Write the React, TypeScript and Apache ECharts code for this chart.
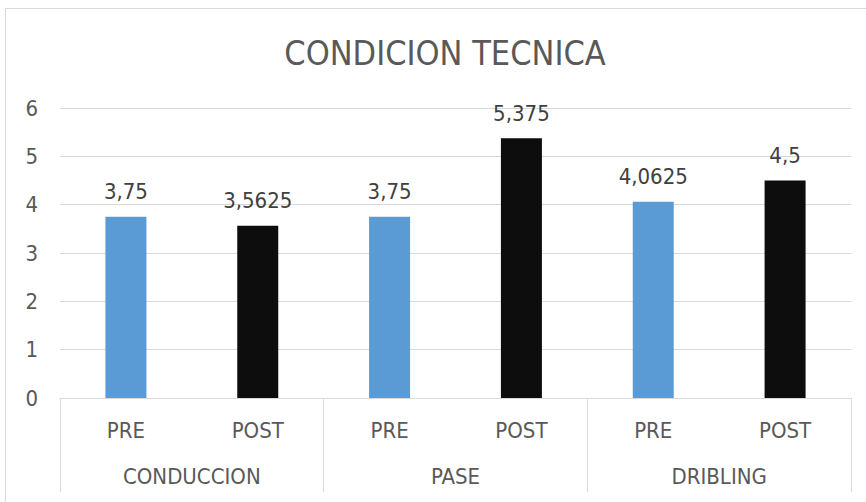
import React, { useEffect, useRef } from "react";
import * as echarts from "echarts";

const groups = ["CONDUCCION", "PASE", "DRIBLING"];
const phases = ["PRE", "POST", "PRE", "POST", "PRE", "POST"];
const values = [3.75, 3.5625, 3.75, 5.375, 4.0625, 4.5];
const barColors = ["#5B9BD5", "#0D0D0D", "#5B9BD5", "#0D0D0D", "#5B9BD5", "#0D0D0D"];
const titleText = "CONDICION TECNICA";

const FONT = "'Liberation Sans Narrow', 'DejaVu Sans Condensed', Roboto, sans-serif";

export default function App() {
  const ref = useRef<HTMLDivElement>(null);
  useEffect(() => {
    if (!ref.current) return;
    const chart = echarts.init(ref.current, undefined, { renderer: "svg" });
    chart.setOption({
      animation: false,
      backgroundColor: "#ffffff",
      title: {
        text: titleText,
        left: 440,
        top: 31,
        textAlign: "center",
        textStyle: { fontFamily: FONT, fontSize: 34, fontWeight: "normal", color: "#595959" },
      },
      graphic: [
        {
          type: "rect",
          shape: { x: 5.5, y: 8.5, width: 900, height: 600 },
          style: { fill: "none", stroke: "#d9d9d9", lineWidth: 1 },
          silent: true,
        },
      ],
      grid: { left: 60, right: 15, top: 108, bottom: 104, containLabel: false },
      xAxis: [
        {
          type: "category",
          data: phases,
          position: "bottom",
          axisLine: { show: true, lineStyle: { color: "#d9d9d9" } },
          axisTick: { show: false },
          axisLabel: { margin: 21, fontFamily: FONT, fontSize: 22, color: "#595959", interval: 0 },
        },
        {
          type: "category",
          data: groups,
          position: "bottom",
          axisLine: { show: false },
          axisTick: { show: true, length: 94, lineStyle: { color: "#d9d9d9" } },
          axisLabel: { margin: 67, fontFamily: FONT, fontSize: 22, color: "#595959", interval: 0 },
        },
      ],
      yAxis: {
        type: "value",
        min: 0,
        max: 6,
        interval: 1,
        axisLine: { show: false },
        axisTick: { show: false },
        splitLine: { lineStyle: { color: "#d9d9d9" } },
        axisLabel: { margin: 22, fontFamily: FONT, fontSize: 22, color: "#595959" },
      },
      series: [
        {
          type: "bar",
          xAxisIndex: 0,
          barWidth: 41,
          data: values.map((v, i) => ({ value: v, itemStyle: { color: barColors[i] } })),
          label: {
            show: true,
            position: "top",
            distance: 14,
            fontFamily: FONT,
            fontSize: 22,
            color: "#404040",
            formatter: (p: any) => String(p.value).replace(".", ","),
          },
        },
      ],
    });
    return () => chart.dispose();
  }, []);
  return (
    <div
      ref={ref}
      style={{ position: "absolute", left: 0, top: 0, width: 866, height: 502 }}
    />
  );
}
